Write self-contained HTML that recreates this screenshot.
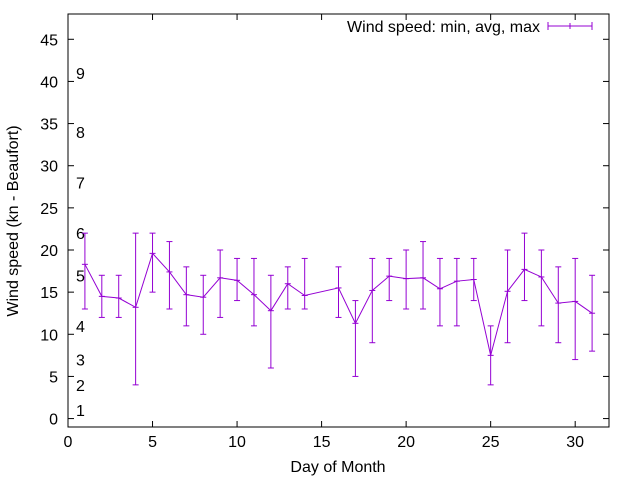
<!DOCTYPE html>
<html><head><meta charset="utf-8"><style>
body{margin:0;background:#fff}
svg text{font-family:"Liberation Sans",sans-serif;font-size:16px;fill:#000}
</style></head><body>
<svg width="640" height="480">
<rect x="68" y="14" width="541" height="413" fill="none" stroke="#000"/>
<g id="axes"></g>
<g id="series"></g>
<text x="338" y="472" text-anchor="middle">Day of Month</text>
<text transform="translate(18,221) rotate(-90)" text-anchor="middle">Wind speed (kn - Beaufort)</text>
<text x="540" y="32" text-anchor="end">Wind speed: min, avg, max</text>
<g stroke="#9400d3">
<line x1="548" y1="26" x2="592" y2="26"/><line x1="548" y1="22" x2="548" y2="30"/><line x1="592" y1="22" x2="592" y2="30"/><line x1="570" y1="23" x2="570" y2="29"/></g>
</svg>
<script>
const days=[1,2,3,4,5,6,7,8,9,10,11,12,13,14,16,17,18,19,20,21,22,23,24,25,26,27,28,29,30,31];
const avgs=[18.3,14.5,14.3,13.2,19.6,17.4,14.7,14.4,16.7,16.4,14.7,12.8,16.0,14.6,15.5,11.3,15.2,16.9,16.6,16.7,15.4,16.3,16.5,7.5,15.1,17.7,16.8,13.7,13.9,12.5];
const mins=[13,12,12,4,15,13,11,10,12,14,11,6,13,13,12,5,9,14,13,13,11,11,14,4,9,14,11,9,7,8];
const maxs=[22,17,17,22,22,21,18,17,20,19,19,17,18,19,18,14,19,19,20,21,19,19,19,11,20,22,20,18,19,17];
const xTicks=[0,5,10,15,20,25,30];
const yTicks=[0,5,10,15,20,25,30,35,40,45];
const bftLabels=["1","2","3","4","5","6","7","8","9"];
const bftPos=[1,4,7,11,17,22,28,34,41];
const NS="http://www.w3.org/2000/svg";
const X0=68,X1=609,Y0=427,Y1=14,xmin=0,xmax=32,ymin=-1,ymax=48;
const sx=v=>X0+(v-xmin)*(X1-X0)/(xmax-xmin);
const sy=v=>Y0-(v-ymin)*(Y0-Y1)/(ymax-ymin);
function mk(t,a,p){const e=document.createElementNS(NS,t);for(const k in a)e.setAttribute(k,a[k]);p.appendChild(e);return e;}
const ax=document.getElementById('axes'),se=document.getElementById('series');
xTicks.forEach(v=>{const x=sx(v);
mk('line',{x1:x,y1:Y0,x2:x,y2:Y0-6,stroke:'#000'},ax);
mk('line',{x1:x,y1:Y1,x2:x,y2:Y1+6,stroke:'#000'},ax);
const t=mk('text',{x:x,y:Y0+20,'text-anchor':'middle'},ax);t.textContent=v;

});
yTicks.forEach(v=>{const y=sy(v);
mk('line',{x1:X0,y1:y,x2:X0+6,y2:y,stroke:'#000'},ax);
mk('line',{x1:X1,y1:y,x2:X1-6,y2:y,stroke:'#000'},ax);
const t=mk('text',{x:X0-10,y:y+6,'text-anchor':'end'},ax);t.textContent=v;

});
bftLabels.forEach((l,i)=>{const t=mk('text',{x:76,y:sy(bftPos[i])+6},ax);t.textContent=l;

});
mk('polyline',{points:days.map((d,i)=>sx(d)+','+sy(avgs[i])).join(' '),fill:'none',stroke:'#9400d3'},se);
days.forEach((d,i)=>{const g=mk('g',{stroke:'#9400d3'},se);


const x=sx(d);
mk('line',{x1:x,y1:sy(mins[i]),x2:x,y2:sy(maxs[i])},g);
mk('line',{x1:x-3,y1:sy(mins[i]),x2:x+3,y2:sy(mins[i])},g);
mk('line',{x1:x-3,y1:sy(maxs[i]),x2:x+3,y2:sy(maxs[i])},g);
mk('line',{x1:x-3,y1:sy(avgs[i]),x2:x+3,y2:sy(avgs[i])},g);});
</script>
</body></html>
